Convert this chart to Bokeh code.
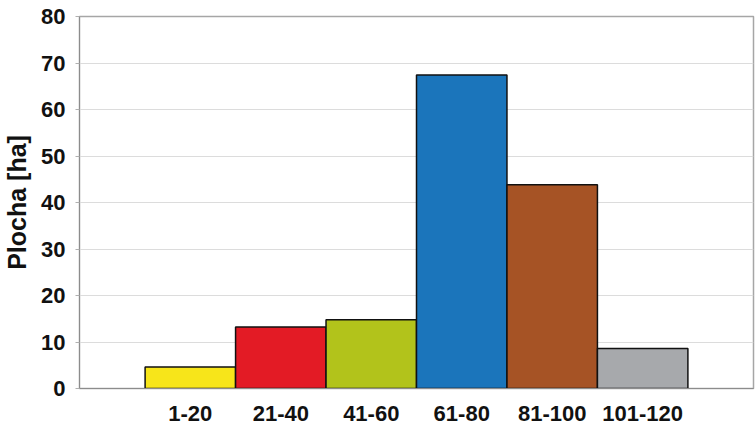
from bokeh.plotting import figure
from bokeh.models import ColumnDataSource, FactorRange, Range1d, FixedTicker
from bokeh.embed import file_html
from bokeh.resources import INLINE

categories = ["1-20", "21-40", "41-60", "61-80", "81-100", "101-120"]
values = [4.6, 13.2, 14.8, 67.4, 43.8, 8.6]
colors = ["#F7E51A", "#E31B25", "#B2C31B", "#1B75BB", "#A65325", "#A7A9AC"]
y_ticks = [0, 10, 20, 30, 40, 50, 60, 70, 80]
y_label = "Plocha [ha]"

source = ColumnDataSource(dict(cat=categories, val=values, color=colors))

p = figure(
    x_range=FactorRange(factors=categories, range_padding=0.2417),
    y_range=Range1d(0, 80),
    width=755, height=428,
    output_backend="svg", toolbar_location=None,
    min_border_left=74, min_border_right=2, min_border_top=16, min_border_bottom=40,
)

p.vbar(x="cat", top="val", width=1.0, fill_color="color", line_color="#111111",
       line_width=1.5, source=source)

p.yaxis.ticker = FixedTicker(ticks=y_ticks)
p.yaxis.axis_label = y_label
p.yaxis.axis_label_text_font = "Liberation Sans"
p.yaxis.axis_label_text_font_style = "bold"
p.yaxis.axis_label_text_font_size = "25px"
p.yaxis.axis_label_text_color = "#111111"
p.yaxis.axis_label_standoff = 7
p.yaxis.major_label_text_font = "Liberation Sans"
p.yaxis.major_label_text_font_style = "bold"
p.yaxis.major_label_text_font_size = "22px"
p.yaxis.major_label_text_color = "#111111"
p.yaxis.major_label_standoff = 10
p.yaxis.major_tick_out = 4
p.yaxis.major_tick_in = 0
p.yaxis.minor_tick_line_color = None
p.yaxis.major_tick_line_color = "#b0b0b0"
p.yaxis.axis_line_color = "#8c8c8c"

p.xaxis.major_label_text_font = "Liberation Sans"
p.xaxis.major_label_text_font_style = "bold"
p.xaxis.major_label_text_font_size = "22px"
p.xaxis.major_label_text_color = "#111111"
p.xaxis.major_label_standoff = 11
p.xaxis.major_tick_line_color = None
p.xaxis.minor_tick_line_color = None
p.xaxis.axis_line_color = "#8c8c8c"

p.xgrid.grid_line_color = None
p.ygrid.grid_line_color = "#dcdcdc"
p.ygrid.grid_line_width = 1

p.outline_line_color = "#a6a6a6"
p.outline_line_width = 1.5
p.background_fill_color = "white"
p.border_fill_color = "white"

open("out.html", "w").write(file_html(p, INLINE))
